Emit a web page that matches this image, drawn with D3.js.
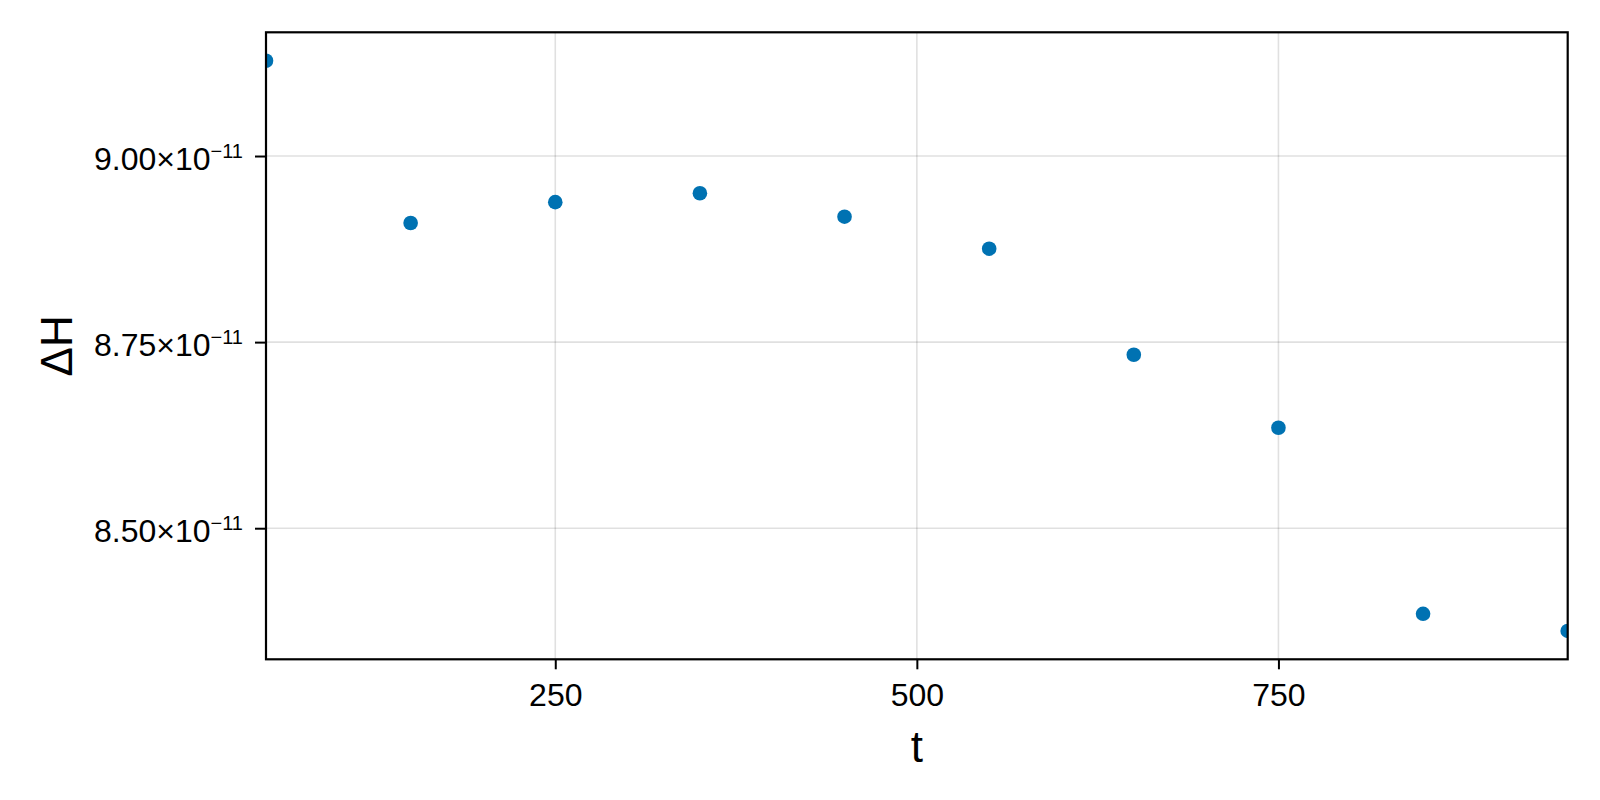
<!DOCTYPE html>
<html>
<head>
<meta charset="utf-8">
<script src="https://cdn.jsdelivr.net/npm/d3@7"></script>
<style>
  body { margin: 0; background: #fff; }
  text { font-family: "Liberation Sans", Arial, sans-serif; fill: #000; }
</style>
</head>
<body>
<div id="canvas"></div>
<script>
// data
const times = [50, 150, 250, 350, 450, 550, 650, 750, 850, 950];
const deltaH = [9.128e-11, 8.910e-11, 8.938e-11, 8.950e-11, 8.9185e-11,
                8.8755e-11, 8.733e-11, 8.635e-11, 8.385e-11, 8.362e-11];
const xTicks = [250, 500, 750];
const yTicks = [8.5e-11, 8.75e-11, 9.0e-11];

const width = 1600;
const height = 800;
const margin = { top: 32.3, left: 266, bottom: 140.7, right: 32.3 };
const iwidth = width - margin.left - margin.right;
const iheight = height - margin.top - margin.bottom;

const svg = d3.select("#canvas").append("svg")
  .attr("width", width)
  .attr("height", height);

const g = svg.append("g")
  .attr("transform", `translate(${margin.left},${margin.top})`);

const x = d3.scaleLinear().domain([50, 950]).range([0, iwidth]);
const y = d3.scaleLinear().domain([8.3239e-11, 9.1662e-11]).range([iheight, 0]);

// grid
g.append("g")
  .selectAll("line.vgrid")
  .data(xTicks)
  .join("line")
  .attr("x1", d => x(d)).attr("x2", d => x(d))
  .attr("y1", 0).attr("y2", iheight)
  .attr("stroke", "rgba(0,0,0,0.12)")
  .attr("stroke-width", 1.6);

g.append("g")
  .selectAll("line.hgrid")
  .data(yTicks)
  .join("line")
  .attr("x1", 0).attr("x2", iwidth)
  .attr("y1", d => y(d)).attr("y2", d => y(d))
  .attr("stroke", "rgba(0,0,0,0.12)")
  .attr("stroke-width", 1.6);

// points, clipped to the plot area
svg.append("clipPath").attr("id", "clip")
  .append("rect").attr("width", iwidth).attr("height", iheight);

g.append("g")
  .attr("clip-path", "url(#clip)")
  .selectAll("circle")
  .data(times)
  .join("circle")
  .attr("cx", d => x(d))
  .attr("cy", (d, i) => y(deltaH[i]))
  .attr("r", 7.3)
  .attr("fill", "#0072b2");

// axes
const xAxis = g.append("g")
  .attr("transform", `translate(0,${iheight})`)
  .call(d3.axisBottom(x).tickValues(xTicks).tickSize(10).tickPadding(14.3).tickSizeOuter(0));

const yAxis = g.append("g")
  .call(d3.axisLeft(y).tickValues(yTicks).tickSize(11).tickPadding(12).tickSizeOuter(0)
    .tickFormat(() => ""));

[xAxis, yAxis].forEach(a => {
  a.select(".domain").remove();
  a.selectAll(".tick line").attr("stroke", "#000").attr("stroke-width", 2);
  a.selectAll(".tick text").attr("font-size", 32).attr("font-family", null);
});

yAxis.selectAll(".tick text")
  .attr("dy", "0.42em")
  .each(function (d) {
    const t = d3.select(this);
    t.append("tspan").text((d / 1e-11).toFixed(2) + "×10");
    t.append("tspan").attr("font-size", 20).attr("dy", -11.7).text("−11");
  });

// frame
g.append("rect")
  .attr("width", iwidth)
  .attr("height", iheight)
  .attr("fill", "none")
  .attr("stroke", "#000")
  .attr("stroke-width", 2.2);

// axis labels
svg.append("text")
  .attr("x", margin.left + iwidth / 2)
  .attr("y", 761.7)
  .attr("text-anchor", "middle")
  .attr("font-size", 44)
  .text("t");

svg.append("text")
  .attr("transform", `translate(71.7,${margin.top + iheight / 2}) rotate(-90)`)
  .attr("text-anchor", "middle")
  .attr("font-size", 44)
  .text("ΔH");
</script>
</body>
</html>
